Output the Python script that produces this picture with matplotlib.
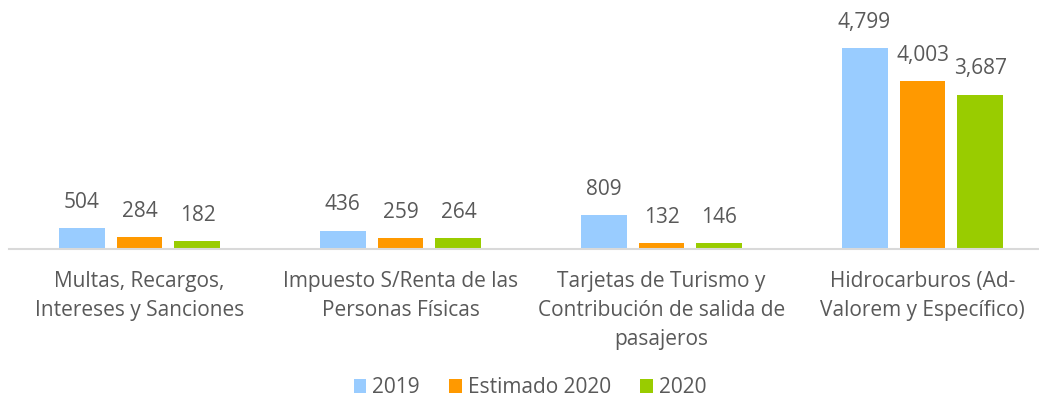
import matplotlib.pyplot as plt
import numpy as np

# data
categories = ["Multas, Recargos,\nIntereses y Sanciones",
              "Impuesto S/Renta de las\nPersonas Físicas",
              "Tarjetas de Turismo y\nContribución de salida de\npasajeros",
              "Hidrocarburos (Ad-\nValorem y Específico)"]
series_names = ["2019", "Estimado 2020", "2020"]
v2019 = [504, 436, 809, 4799]
vest2020 = [284, 259, 132, 4003]
v2020 = [182, 264, 146, 3687]

colors = ["#99CCFF", "#FF9900", "#99CC00"]
text_color = "#595959"
plt.rcParams['font.family'] = ['Open Sans', 'DejaVu Sans']

W, H = 1039, 401
fig = plt.figure(figsize=(W / 100, H / 100), dpi=100)
# axes placed in pixel terms: left 9, width 4*261, baseline at y=249
ax = fig.add_axes([9 / W, (H - 249) / H, 1044 / W, 209.4 / H])
ax.set_xlim(-0.5, 3.5)
ax.set_ylim(0, 5000)

x = np.arange(len(categories))
bw = 0.176
step = 0.222
for i, (vals, c, name) in enumerate(zip([v2019, vest2020, v2020], colors, series_names)):
    xs = x + (i - 1) * step
    bars = ax.bar(xs, vals, width=bw, color=c, label=name, zorder=2)
    for xi, v in zip(xs, vals):
        ax.annotate(f"{v:,}", (xi, v), xytext=(0, 11), textcoords='offset points',
                    ha='center', va='bottom', fontsize=15, color=text_color)

for s in ['top', 'right', 'left']:
    ax.spines[s].set_visible(False)
ax.spines['bottom'].set_color('#D9D9D9')
ax.spines['bottom'].set_linewidth(1.5)
ax.set_yticks([])
ax.set_xticks(x)
ax.set_xticklabels(categories, fontsize=15, color=text_color, linespacing=1.5, va='top')
ax.tick_params(axis='x', length=0, pad=16)

fig.legend(loc='lower center', bbox_to_anchor=(530 / W, -0.04), ncol=3, frameon=False,
           fontsize=15, labelcolor=text_color, handlelength=0.6, handleheight=0.6,
           handletextpad=0.3, columnspacing=1.4)

fig.savefig('out.png', dpi=100)
